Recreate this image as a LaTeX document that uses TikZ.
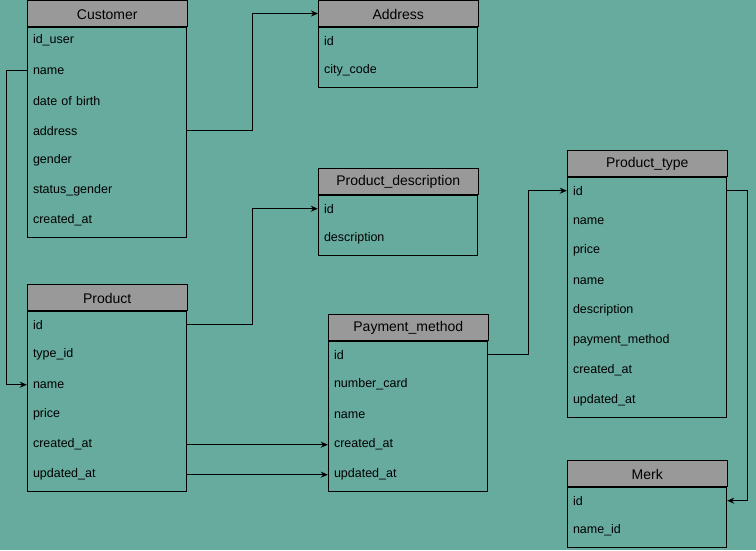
\documentclass[tikz,border=0pt]{standalone}
\usepackage{fontspec}
\setmainfont{Liberation Sans}
\usetikzlibrary{arrows.meta}
\definecolor{bg}{HTML}{67AB9F}
\definecolor{hdr}{HTML}{999999}
\tikzset{
  hdrbox/.style={draw=black, fill=hdr, line width=1pt, minimum width=159.5pt, minimum height=26pt, inner sep=0pt, font=\fontsize{14}{16}\selectfont, anchor=north west},
  hdrtext/.style={font=\fontsize{14}{16}\selectfont, inner sep=0pt},
  bodybox/.style={draw=black, line width=1pt},
  row/.style={minimum width=160pt, minimum height=30pt, text width=148pt, align=left, inner xsep=6pt, inner ysep=0pt, font=\fontsize{12.5}{15}\selectfont},
  conn/.style={draw=black, line width=1pt, -{Stealth[length=7pt,width=6pt]}},
}
\newcommand{\ertable}[5]{% name, x, y, title, nrows
  \node[hdrbox] (#1) at (#2,#3) {};
  \node[hdrtext] (#1-title) at ([yshift=-0.8pt]#1.center) {#4};
  \draw[bodybox] (#1.south west) rectangle ([xshift=159.5pt,yshift=-#5*30pt]#1.south west);
}
\begin{document}
\begin{tikzpicture}[x=1pt,y=-1pt]
\fill[bg] (0,0) rectangle (756,550);
\useasboundingbox (0,0) rectangle (756,550);

% Customer
\ertable{cust}{27}{0}{Customer}{7}
\node[row] (cust-id) at (107,40.7) {id\_user};
\node[row] (cust-name) at (107,70.7) {name};
\node[row] (cust-dob) at (107,100.7) {date of birth};
\node[row] (cust-address) at (107,130.7) {address};
\node[row] (cust-gender) at (107,160.7) {gender};
\node[row] (cust-status) at (107,190.7) {status\_gender};
\node[row] (cust-created) at (107,220.7) {created\_at};

% Address
\ertable{addr}{318}{0}{Address}{2}
\node[row] (addr-id) at (398,40.7) {id};
\node[row] (addr-city) at (398,70.7) {city\_code};

% Product_description
\ertable{pdesc}{318}{168}{Product\_description}{2}
\node[row] (pdesc-id) at (398,208.7) {id};
\node[row] (pdesc-desc) at (398,238.7) {description};

% Product
\ertable{prod}{27}{284}{Product}{6}
\node[row] (prod-id) at (107,324.7) {id};
\node[row] (prod-type) at (107,354.7) {type\_id};
\node[row] (prod-name) at (107,384.7) {name};
\node[row] (prod-price) at (107,414.7) {price};
\node[row] (prod-created) at (107,444.7) {created\_at};
\node[row] (prod-updated) at (107,474.7) {updated\_at};

% Payment_method
\ertable{pay}{328}{314}{Payment\_method}{5}
\node[row] (pay-id) at (408,354.7) {id};
\node[row] (pay-card) at (408,384.7) {number\_card};
\node[row] (pay-name) at (408,414.7) {name};
\node[row] (pay-created) at (408,444.7) {created\_at};
\node[row] (pay-updated) at (408,474.7) {updated\_at};

% Product_type
\ertable{ptype}{567}{150}{Product\_type}{8}
\node[row] (ptype-id) at (647,190.7) {id};
\node[row] (ptype-name) at (647,220.7) {name};
\node[row] (ptype-price) at (647,250.7) {price};
\node[row] (ptype-name2) at (647,280.7) {name};
\node[row] (ptype-desc) at (647,310.7) {description};
\node[row] (ptype-pay) at (647,340.7) {payment\_method};
\node[row] (ptype-created) at (647,370.7) {created\_at};
\node[row] (ptype-updated) at (647,400.7) {updated\_at};

% Merk
\ertable{merk}{567}{460}{Merk}{2}
\node[row] (merk-id) at (647,500.7) {id};
\node[row] (merk-nameid) at (647,530.7) {name\_id};

% connectors
\draw[conn] (cust-name.west) -- ++(-20,0) |- (prod-name.west);
\draw[conn] (cust-address.east) -- ++(65,0) |- (addr.west);
\draw[conn] (prod-id.east) -- ++(65,0) |- (pdesc-id.west);
\draw[conn] (pay-id.east) -- ++(40,0) |- (ptype-id.west);
\draw[conn] (ptype-id.east) -- ++(20,0) |- (merk-id.east);
\draw[conn] (prod-created.east) -- (pay-created.west);
\draw[conn] (prod-updated.east) -- (pay-updated.west);
\end{tikzpicture}
\end{document}
